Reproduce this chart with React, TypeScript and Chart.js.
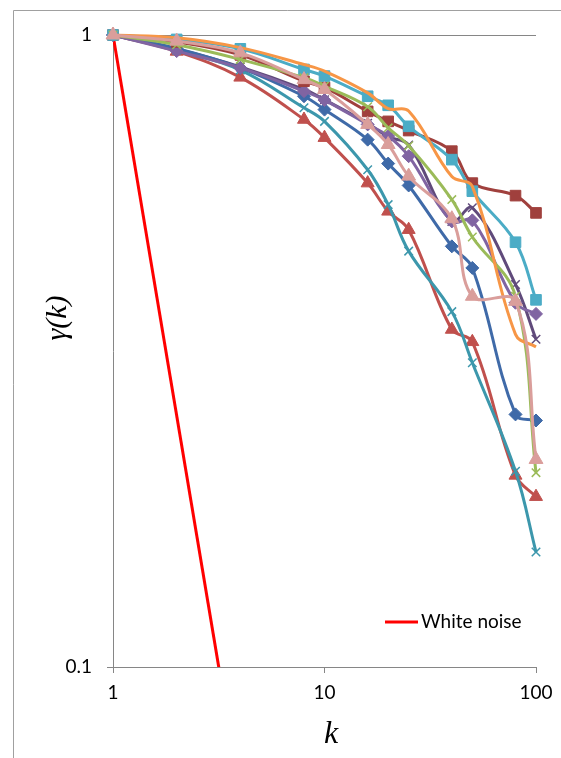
import React, { useEffect, useRef } from 'react';
import { Chart, registerables } from 'chart.js';

Chart.register(...registerables);

// Lags k at which the autocorrelation γ(k) was evaluated
const lags = [1, 2, 4, 8, 10, 16, 20, 25, 40, 50, 80, 100];

// Axis ticks
const xTickValues = [1, 10, 100];
const xTickLabels = ['1', '10', '100'];
const yTickValues = [0.1, 1];
const yTickLabels = ['0.1', '1'];

// Reference decay for white noise, γ(k) = k^-2
const whiteNoiseLags = [1, 10, 100];
const whiteNoiseValues = [1, 0.01, 0.0001];

// Measured series
const blueDiamond = [1, 0.952, 0.887, 0.8, 0.762, 0.683, 0.626, 0.578, 0.463, 0.428, 0.251, 0.2455];
const brownSquare = [1, 0.975, 0.93, 0.845, 0.826, 0.757, 0.73, 0.706, 0.655, 0.583, 0.557, 0.523];
const redTriangle = [1, 0.942, 0.857, 0.735, 0.688, 0.583, 0.526, 0.492, 0.342, 0.327, 0.201, 0.186];
const greenCross = [1, 0.965, 0.915, 0.856, 0.83, 0.77, 0.713, 0.668, 0.549, 0.479, 0.386, 0.203];
const purpleDiamond = [1, 0.943, 0.887, 0.815, 0.789, 0.722, 0.692, 0.643, 0.507, 0.509, 0.377, 0.362];
const tealCross = [1, 0.946, 0.88, 0.767, 0.73, 0.612, 0.539, 0.455, 0.365, 0.303, 0.204, 0.152];
const cyanSquare = [1, 0.984, 0.951, 0.882, 0.861, 0.8, 0.774, 0.717, 0.635, 0.566, 0.47, 0.381];
const orangeLine = [1, 0.99, 0.955, 0.898, 0.877, 0.81, 0.765, 0.758, 0.597, 0.576, 0.336, 0.321];
const pinkTriangle = [1, 0.978, 0.937, 0.85, 0.82, 0.722, 0.671, 0.598, 0.512, 0.386, 0.379, 0.213];
const plumCross = [1, 0.95, 0.89, 0.82, 0.79, 0.725, 0.69, 0.67, 0.507, 0.533, 0.403, 0.33];

const TICK_FONT = { family: 'Lato, "Open Sans", sans-serif', size: 19 };
const AXIS_GREY = '#868686';

type SeriesStyle = {
  values: number[];
  color: string;
  pointStyle: string | false;
  radius: number;
  pointBorder: number;
};

// Drawn bottom to top
const series: SeriesStyle[] = [
  { values: plumCross, color: '#604A7B', pointStyle: 'crossRot', radius: 6, pointBorder: 1.5 },
  { values: redTriangle, color: '#C0504D', pointStyle: 'triangle', radius: 7.5, pointBorder: 1 },
  { values: tealCross, color: '#3C97AC', pointStyle: 'crossRot', radius: 6, pointBorder: 1.5 },
  { values: blueDiamond, color: '#3F6AA8', pointStyle: 'rectRot', radius: 6.5, pointBorder: 1 },
  { values: purpleDiamond, color: '#8064A2', pointStyle: 'rectRot', radius: 6.5, pointBorder: 1 },
  { values: brownSquare, color: '#A0403D', pointStyle: 'rect', radius: 7.5, pointBorder: 1 },
  { values: cyanSquare, color: '#4BACC6', pointStyle: 'rect', radius: 7.5, pointBorder: 1 },
  { values: greenCross, color: '#9BBB59', pointStyle: 'crossRot', radius: 6, pointBorder: 1.5 },
  { values: orangeLine, color: '#F79646', pointStyle: false, radius: 0, pointBorder: 0 },
  { values: pinkTriangle, color: '#DA9E9B', pointStyle: 'triangle', radius: 8, pointBorder: 1 },
];

const toPoints = (xs: number[], ys: number[]) => xs.map((x, i) => ({ x, y: ys[i] }));

// Outer frame, axis titles and the single legend entry
const decorPlugin = {
  id: 'decor',
  beforeDraw(chart: any) {
    const { ctx } = chart;
    ctx.save();
    ctx.fillStyle = '#ffffff';
    ctx.fillRect(0, 0, chart.width, chart.height);
    ctx.strokeStyle = '#a0a0a0';
    ctx.lineWidth = 1;
    ctx.beginPath();
    ctx.moveTo(13.5, chart.height);
    ctx.lineTo(13.5, 10.5);
    ctx.lineTo(chart.width, 10.5);
    ctx.stroke();
    ctx.restore();
  },
  afterDraw(chart: any) {
    const { ctx, chartArea } = chart;
    ctx.save();
    ctx.fillStyle = '#000';
    ctx.textAlign = 'center';
    ctx.textBaseline = 'middle';
    ctx.font = 'italic 30px "Liberation Serif", "DejaVu Serif", serif';
    ctx.translate(58, 318);
    ctx.rotate(-Math.PI / 2);
    ctx.fillText('γ(k)', 0, 0);
    ctx.restore();

    ctx.save();
    ctx.fillStyle = '#000';
    ctx.textAlign = 'center';
    ctx.textBaseline = 'middle';
    ctx.font = 'italic 32px "Liberation Serif", "DejaVu Serif", serif';
    ctx.fillText('k', 331, 735);
    ctx.restore();

    const wn = chart.data.datasets.find((d: any) => d.showInLegend);
    if (wn) {
      const ly = chartArea.bottom - 45;
      const lx = chartArea.right - 151;
      ctx.save();
      ctx.strokeStyle = wn.borderColor;
      ctx.lineWidth = 3;
      ctx.beginPath();
      ctx.moveTo(lx, ly);
      ctx.lineTo(lx + 33, ly);
      ctx.stroke();
      ctx.fillStyle = '#000';
      ctx.textAlign = 'left';
      ctx.textBaseline = 'middle';
      ctx.font = `${TICK_FONT.size}px ${TICK_FONT.family}`;
      ctx.fillText(wn.label, lx + 36, ly);
      ctx.restore();
    }
  },
};

export default function App() {
  const canvasRef = useRef<HTMLCanvasElement | null>(null);

  useEffect(() => {
    if (!canvasRef.current) return;
    const n = series.length + 1;
    const datasets: any[] = [
      {
        label: 'White noise',
        showInLegend: true,
        data: toPoints(whiteNoiseLags, whiteNoiseValues),
        borderColor: '#FF0000',
        backgroundColor: '#FF0000',
        borderWidth: 3,
        pointRadius: 0,
        tension: 0,
        order: n,
      },
      ...series.map((s, i) => ({
        label: `series ${i + 1}`,
        data: toPoints(lags, s.values),
        borderColor: s.color,
        backgroundColor: s.color,
        borderWidth: 3,
        pointStyle: s.pointStyle,
        pointRadius: s.radius,
        pointBackgroundColor: s.color,
        pointBorderColor: s.color,
        pointBorderWidth: s.pointBorder,
        tension: 0.38,
        clip: 10,
        order: n - 1 - i,
      })),
    ];

    const chart = new Chart(canvasRef.current, {
      type: 'line',
      data: { datasets },
      options: {
        animation: false,
        responsive: false,
        events: [],
        layout: { padding: { left: 0, right: 25, top: 35, bottom: 0 } },
        plugins: { legend: { display: false }, tooltip: { enabled: false } },
        scales: {
          x: {
            type: 'logarithmic',
            min: 1,
            max: 100,
            afterBuildTicks: (s: any) => {
              s.ticks = xTickValues.map((v) => ({ value: v }));
            },
            afterFit: (s: any) => {
              s.height = 91;
            },
            grid: { drawOnChartArea: false, drawTicks: true, tickLength: 6, tickColor: AXIS_GREY },
            border: { display: true, color: AXIS_GREY, width: 1 },
            ticks: {
              autoSkip: false,
              maxRotation: 0,
              padding: 8,
              color: '#000',
              font: TICK_FONT,
              callback: (_v: any, i: number) => xTickLabels[i],
            },
          },
          y: {
            type: 'logarithmic',
            min: 0.1,
            max: 1,
            afterBuildTicks: (s: any) => {
              s.ticks = yTickValues.map((v) => ({ value: v }));
            },
            afterFit: (s: any) => {
              s.width = 113;
            },
            grid: {
              drawTicks: true,
              tickLength: 6,
              tickColor: AXIS_GREY,
              color: (c: any) => (c.tick && c.tick.value === 1 ? AXIS_GREY : 'rgba(0,0,0,0)'),
            },
            border: { display: true, color: AXIS_GREY, width: 1 },
            ticks: {
              padding: 15,
              color: '#000',
              font: TICK_FONT,
              callback: (_v: any, i: number) => yTickLabels[i],
            },
          },
        },
      } as any,
      plugins: [decorPlugin],
    });

    return () => chart.destroy();
  }, []);

  return (
    <div style={{ position: 'fixed', left: 0, top: 0, width: 561, height: 758, background: '#fff' }}>
      <canvas ref={canvasRef} width={561} height={758} style={{ display: 'block', width: 561, height: 758 }} />
    </div>
  );
}
